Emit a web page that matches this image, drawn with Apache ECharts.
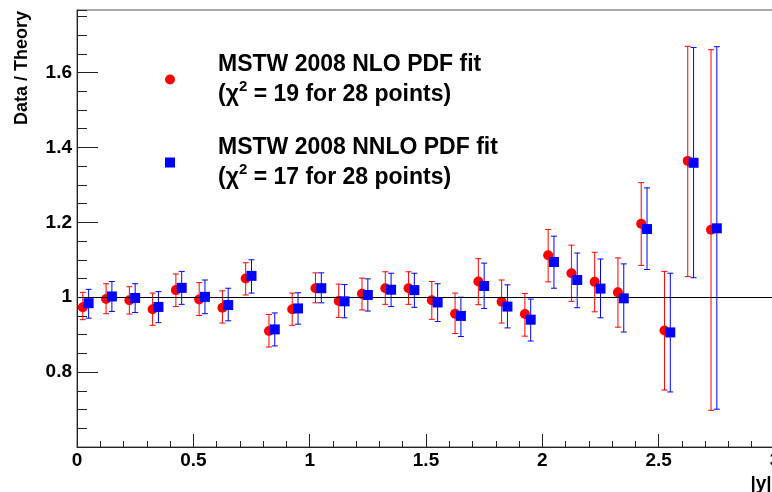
<!DOCTYPE html>
<html>
<head>
<meta charset="utf-8">
<script src="https://cdn.jsdelivr.net/npm/echarts@6/dist/echarts.min.js"></script>
<style>
  html, body { margin: 0; padding: 0; background: #fff; }
  #chart { width: 772px; height: 492px; }
</style>
</head>
<body>
<div id="chart"></div>
<script>
// bin centres in |y|
var binCentres = [0.05, 0.15, 0.25, 0.35, 0.45, 0.55, 0.65, 0.75, 0.85, 0.95,
                  1.05, 1.15, 1.25, 1.35, 1.45, 1.55, 1.65, 1.75, 1.85, 1.95,
                  2.05, 2.15, 2.25, 2.35, 2.45, 2.55, 2.65, 2.75];

// MSTW 2008 NLO: data / theory and error band
var nloVal = [0.973, 0.995, 0.992, 0.968, 1.019, 0.994, 0.972, 1.050, 0.910, 0.968,
              1.024, 0.990, 1.009, 1.024, 1.024, 0.992, 0.956, 1.042, 0.988, 0.955,
              1.112, 1.064, 1.041, 1.013, 1.196, 0.911, 1.364, 1.180];
var nloHi  = [1.013, 1.036, 1.028, 1.011, 1.062, 1.039, 1.017, 1.092, 0.954, 1.011,
              1.065, 1.035, 1.051, 1.068, 1.068, 1.042, 1.011, 1.103, 1.046, 1.010,
              1.181, 1.139, 1.120, 1.105, 1.306, 1.069, 1.670, 1.661];
var nloLo  = [0.940, 0.956, 0.955, 0.925, 0.975, 0.951, 0.931, 1.006, 0.867, 0.925,
              0.985, 0.946, 0.966, 0.981, 0.981, 0.941, 0.903, 0.980, 0.931, 0.896,
              1.041, 0.989, 0.961, 0.920, 1.085, 0.752, 1.055, 0.698];

// MSTW 2008 NNLO
var nnloVal = [0.984, 1.002, 0.998, 0.974, 1.025, 1.001, 0.979, 1.057, 0.914, 0.970,
               1.024, 0.989, 1.006, 1.020, 1.019, 0.986, 0.950, 1.030, 0.975, 0.940,
               1.094, 1.046, 1.023, 0.997, 1.182, 0.906, 1.359, 1.184];
var nnloHi  = [1.021, 1.042, 1.036, 1.015, 1.069, 1.046, 1.024, 1.100, 0.958, 1.012,
               1.065, 1.034, 1.049, 1.064, 1.064, 1.036, 1.000, 1.091, 1.033, 0.995,
               1.163, 1.118, 1.102, 1.089, 1.292, 1.064, 1.667, 1.669];
var nnloLo  = [0.944, 0.962, 0.959, 0.932, 0.981, 0.956, 0.937, 1.011, 0.870, 0.928,
               0.985, 0.945, 0.963, 0.975, 0.973, 0.935, 0.895, 0.970, 0.918, 0.883,
               1.024, 0.972, 0.945, 0.907, 1.074, 0.747, 1.052, 0.701];

var legendNames = ['MSTW 2008 NLO PDF fit', 'MSTW 2008 NNLO PDF fit'];
var chi2Text = ['19 for 28 points', '17 for 28 points'];

var FONT = '"Liberation Sans", Arial, Helvetica, sans-serif';

function buildPoints(vals, shift) {
    return vals.map(function (v, i) { return [binCentres[i] + shift, v]; });
}
function buildBars(lo, hi, shift) {
    return lo.map(function (l, i) { return [binCentres[i] + shift, l, hi[i]]; });
}
function errorBar(color) {
    return function (params, api) {
        var x = api.value(0);
        var top = api.coord([x, api.value(2)]);
        var bot = api.coord([x, api.value(1)]);
        var w = 3;
        var st = { stroke: color, lineWidth: 1 };
        return {
            type: 'group',
            children: [
                { type: 'line', shape: { x1: top[0], y1: top[1], x2: bot[0], y2: bot[1] }, style: st },
                { type: 'line', shape: { x1: top[0] - w, y1: top[1], x2: top[0] + w, y2: top[1] }, style: st },
                { type: 'line', shape: { x1: bot[0] - w, y1: bot[1], x2: bot[0] + w, y2: bot[1] }, style: st }
            ]
        };
    };
}

var dom = document.getElementById('chart');
var myChart = echarts.init(dom);

var yMin = 0.6, yMax = 1.767;

var option = {
    animation: false,
    backgroundColor: '#fff',
    grid: {
        left: 77, top: 10, width: 698, bottom: 45,
        outerBoundsMode: 'none',
        containLabel: false,
        show: true, borderColor: '#555', borderWidth: 1
    },
    legend: {
        orient: 'vertical',
        left: 165, top: 53,
        padding: 0,
        itemWidth: 10, itemHeight: 10,
        itemGap: 30,
        selectedMode: false,
        data: [
            { name: legendNames[0], icon: 'circle' },
            { name: legendNames[1], icon: 'rect' }
        ],
        formatter: function (name) {
            var k = legendNames.indexOf(name);
            return '{t|' + name + '}\n{t|(χ}{s|2}{t| = ' + chi2Text[k] + ')}';
        },
        textStyle: {
            padding: [0, 0, 0, 38],
            rich: {
                t: { fontFamily: FONT, fontWeight: 'bold', fontSize: 23, lineHeight: 30, color: '#000' },
                s: { fontFamily: FONT, fontWeight: 'bold', fontSize: 15, lineHeight: 20, verticalAlign: 'top', color: '#000' }
            }
        }
    },
    xAxis: {
        type: 'value',
        min: 0, max: 3, interval: 0.5,
        axisLine: { show: true, onZero: false, lineStyle: { color: '#222', width: 1 } },
        axisTick: { show: true, inside: true, length: 13, lineStyle: { color: '#222' } },
        minorTick: { show: true, splitNumber: 5, length: 6, lineStyle: { color: '#222' } },
        splitLine: { show: false },
        axisLabel: {
            margin: 4,
            fontFamily: FONT, fontWeight: 'bold', fontSize: 19, color: '#000',
            formatter: function (v) { return String(+v.toFixed(2)); }
        }
    },
    yAxis: [
        {
            type: 'value',
            min: yMin, max: yMax, interval: 0.2,
            axisLine: { show: true, onZero: false, lineStyle: { color: '#222', width: 1 } },
            axisTick: { show: true, inside: true, length: 21, lineStyle: { color: '#222' } },
            splitLine: { show: false },
            axisLabel: {
                margin: 5, showMinLabel: false, showMaxLabel: false,
                fontFamily: FONT, fontWeight: 'bold', fontSize: 19, color: '#000',
                formatter: function (v) { return String(+v.toFixed(2)); }
            }
        },
        {
            // minor ticks every 0.05
            type: 'value',
            position: 'left',
            min: yMin, max: yMax, interval: 0.05,
            axisLine: { show: false },
            axisTick: { show: true, inside: true, length: 10, lineStyle: { color: '#222' } },
            splitLine: { show: false },
            axisLabel: { show: false }
        }
    ],
    graphic: [
        {
            type: 'text', x: 22, y: 68, rotation: Math.PI / 2,
            style: {
                text: 'Data / Theory', align: 'center', verticalAlign: 'middle',
                font: 'bold 18px ' + FONT, fill: '#000'
            }
        },
        {
            type: 'text', x: 761, y: 484,
            style: {
                text: '|y|', align: 'center', verticalAlign: 'middle',
                font: 'bold 19px ' + FONT, fill: '#000'
            }
        }
    ],
    series: [
        {
            name: 'nloErr', type: 'custom', yAxisIndex: 0,
            renderItem: errorBar('#ff0000'),
            encode: { x: 0, y: [1, 2] },
            data: buildBars(nloLo, nloHi, -0.025),
            z: 2
        },
        {
            name: legendNames[0], type: 'scatter', yAxisIndex: 0,
            symbol: 'circle', symbolSize: 10,
            itemStyle: { color: '#ff0000', opacity: 1 },
            data: buildPoints(nloVal, -0.025),
            markLine: {
                silent: true, symbol: 'none', label: { show: false },
                lineStyle: { color: '#000', type: 'solid', width: 1 },
                data: [{ yAxis: 1 }]
            },
            z: 3
        },
        {
            name: 'nnloErr', type: 'custom', yAxisIndex: 0,
            renderItem: errorBar('#0000ff'),
            encode: { x: 0, y: [1, 2] },
            data: buildBars(nnloLo, nnloHi, 0),
            z: 4
        },
        {
            name: legendNames[1], type: 'scatter', yAxisIndex: 0,
            symbol: 'rect', symbolSize: 10,
            itemStyle: { color: '#0000ff', opacity: 1 },
            data: buildPoints(nnloVal, 0),
            z: 5
        }
    ]
};

if (option && typeof option === "object") {
    myChart.setOption(option, true);
}
window.addEventListener('resize', function () {
    myChart.resize();
});
</script>
</body>
</html>
